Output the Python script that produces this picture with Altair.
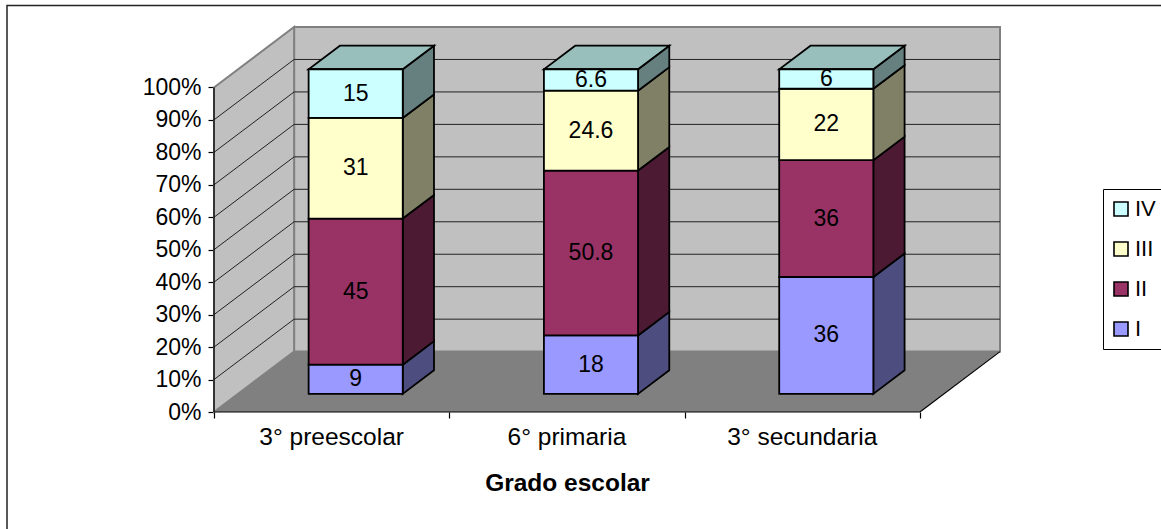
import altair as alt
import pandas as pd

# Percent share of each level per school grade
categories = ["3° preescolar", "6° primaria", "3° secundaria"]
level_i = [9, 18, 36]
level_ii = [45, 50.8, 36]
level_iii = [31, 24.6, 22]
level_iv = [15, 6.6, 6]

levels = ["I", "II", "III", "IV"]
front_colors = ["#9999FF", "#993366", "#FFFFCC", "#CCFFFF"]
side_colors = ["#4D4D80", "#4D1A33", "#808066", "#668080"]
top_color = "#99BFBD"
series = [level_i, level_ii, level_iii, level_iv]

FONT = "Liberation Sans"

# Oblique projection: depth 0 is the front of the floor, depth 1 the back wall.
DEPTH_X = 80 / 235   # in category units
DEPTH_Y = 18.6       # in percentage points
BAR_WIDTH = 0.4
BAR_FRONT = 0.30
BAR_BACK = 0.69
X_MAX = 3 + DEPTH_X
Y_MAX = 100 + DEPTH_Y

x_scale = alt.Scale(domain=[0, X_MAX], nice=False, zero=False)
y_scale = alt.Scale(domain=[0, Y_MAX], nice=False, zero=False)

x_axis = alt.Axis(
    title="Grado escolar", values=[0, 1, 2, 3], labels=False, grid=False, domain=False,
    tickColor="black", tickSize=6, tickWidth=1.2,
    titleFont=FONT, titleFontSize=24.5, titleFontWeight="bold", titleColor="black",
    titleX=353, titleY=59, titleAlign="center",
)
y_axis = alt.Axis(
    title=None, values=list(range(0, 101, 10)), labelExpr="datum.value + '%'",
    grid=False, domain=False, tickColor="black", tickSize=6, tickWidth=1.2,
    labelFont=FONT, labelFontSize=23, labelColor="black", labelPadding=7,
)


def X(field="x:Q"):
    return alt.X(field, scale=x_scale, axis=x_axis)


def Y(field="y:Q"):
    return alt.Y(field, scale=y_scale, axis=y_axis)


# Stacked segments: front faces, side faces and the cap of each stack
lift = BAR_FRONT * DEPTH_Y
run_x = (BAR_BACK - BAR_FRONT) * DEPTH_X
run_y = (BAR_BACK - BAR_FRONT) * DEPTH_Y
front_rows, side_rows, top_rows = [], [], []
for c, cat in enumerate(categories):
    base = lift
    left = c + 0.5 - BAR_WIDTH / 2 + BAR_FRONT * DEPTH_X
    right = left + BAR_WIDTH
    for s, lev in enumerate(levels):
        value = series[s][c]
        top = base + value
        front_rows.append(dict(cat=cat, level=lev, value=value, x=left, x2=right,
                               y=base, y2=top, mid=(base + top) / 2,
                               cx=(left + right) / 2))
        side_rows.append(dict(face=f"{c}-{s}", shade=side_colors[s], x=right, y=base, y2=top))
        side_rows.append(dict(face=f"{c}-{s}", shade=side_colors[s], x=right + run_x,
                              y=base + run_y, y2=top + run_y))
        base = top
    top_rows.append(dict(face=c, x=left, x2=right, y=base))
    top_rows.append(dict(face=c, x=left + run_x, x2=right + run_x, y=base + run_y))

front = pd.DataFrame(front_rows)
sides = pd.DataFrame(side_rows)
tops = pd.DataFrame(top_rows)

# Frame around the whole chart
frame = alt.Chart().mark_rect(fill="transparent", stroke="#222222", strokeWidth=1.5).encode(
    x=alt.value(-207), x2=alt.value(1300), y=alt.value(-21.5), y2=alt.value(700)
)

# Back wall
back_wall = alt.Chart(pd.DataFrame([dict(x=DEPTH_X, x2=X_MAX, y=DEPTH_Y, y2=Y_MAX)])).mark_rect(
    fill="#C0C0C0", stroke="#808080", strokeWidth=2
).encode(x=X(), x2="x2:Q", y=Y(), y2="y2:Q")

# Left wall
side_wall = alt.Chart(pd.DataFrame([
    dict(x=0, y=0, y2=100), dict(x=DEPTH_X, y=DEPTH_Y, y2=Y_MAX)
])).mark_area(fill="#C0C0C0", stroke="#808080", strokeWidth=2).encode(x=X(), y=Y(), y2="y2:Q")

# Floor
floor = alt.Chart(pd.DataFrame([
    dict(x=0, x2=3, y=0), dict(x=DEPTH_X, x2=X_MAX, y=DEPTH_Y)
])).mark_area(orient="horizontal", fill="#808080").encode(y=Y(), x=X(), x2="x2:Q")

# Gridlines on both walls
grid_levels = list(range(10, 100, 10))
back_grid = alt.Chart(pd.DataFrame([
    dict(x=DEPTH_X, x2=X_MAX, y=g + DEPTH_Y) for g in grid_levels
])).mark_rule(color="#222222", strokeWidth=1).encode(x=X(), x2="x2:Q", y=Y())
side_grid_rows = []
for g in grid_levels:
    side_grid_rows.append(dict(g=g, x=0, y=g))
    side_grid_rows.append(dict(g=g, x=DEPTH_X, y=g + DEPTH_Y))
side_grid = alt.Chart(pd.DataFrame(side_grid_rows)).mark_line(color="#222222", strokeWidth=1).encode(
    x=X(), y=Y(), detail="g:N"
)

# Axis lines and the right edge of the floor
y_line = alt.Chart(pd.DataFrame([dict(x=0, y=0, y2=100)])).mark_rule(color="black", strokeWidth=1.2).encode(
    x=X(), y=Y(), y2="y2:Q"
)
x_line = alt.Chart(pd.DataFrame([dict(x=0, x2=3, y=0)])).mark_rule(color="black", strokeWidth=1.2).encode(
    x=X(), x2="x2:Q", y=Y()
)
floor_edge = alt.Chart(pd.DataFrame([dict(x=3, y=0), dict(x=X_MAX, y=DEPTH_Y)])).mark_line(
    color="black", strokeWidth=1.2
).encode(x=X(), y=Y())

# Side faces, tops and front faces of the stacks
side_faces = alt.Chart(sides).mark_area(stroke="black", strokeWidth=1.8, strokeJoin="miter").encode(
    x=X(), y=Y(), y2="y2:Q", detail="face:N", fill=alt.Fill("shade:N", scale=None),
)
top_faces = alt.Chart(tops).mark_area(orient="horizontal", fill=top_color, stroke="black",
                                      strokeWidth=1.8, strokeJoin="miter").encode(
    y=Y(), x=X(), x2="x2:Q", detail="face:N"
)
front_faces = alt.Chart(front).mark_rect(stroke="black", strokeWidth=1.8).encode(
    x=X(), x2="x2:Q", y=Y(), y2="y2:Q",
    color=alt.Color(
        "level:N",
        scale=alt.Scale(domain=levels[::-1], range=front_colors[::-1]),
        legend=alt.Legend(
            title=None, orient="none", legendX=889, legendY=162,
            strokeColor="black", fillColor="white", padding=9,
            symbolType="square", symbolSize=196, symbolStrokeColor="black",
            symbolStrokeWidth=1.6, symbolOpacity=1, symbolOffset=-2,
            labelFont=FONT, labelFontSize=22, labelColor="black", labelOffset=3,
            rowPadding=18,
        ),
    ),
)

# Value labels in the middle of each segment
value_labels = alt.Chart(front).mark_text(font=FONT, fontSize=23, color="black").encode(
    x=X("cx:Q"), y=Y("mid:Q"), text=alt.Text("value:Q", format="~g"),
)

# Category names below the front edge of the floor
cat_labels = alt.Chart(pd.DataFrame(dict(cat=categories, x=[i + 0.5 for i in range(3)], y=[0] * 3))).mark_text(
    font=FONT, fontSize=24.5, color="black", dy=26
).encode(x=X(), y=Y(), text="cat:N")

chart = alt.layer(
    frame, back_wall, side_wall, floor, back_grid, side_grid, floor_edge, y_line, x_line,
    side_faces, top_faces, front_faces, value_labels, cat_labels,
).properties(
    width=786, height=385,
    padding={"left": 214, "top": 27, "right": 161, "bottom": 117},
    autosize=alt.AutoSizeParams(type="none"),
    background="white",
).configure_view(stroke=None)

chart.save("out.html", embed_options={"renderer": "svg", "actions": False})
